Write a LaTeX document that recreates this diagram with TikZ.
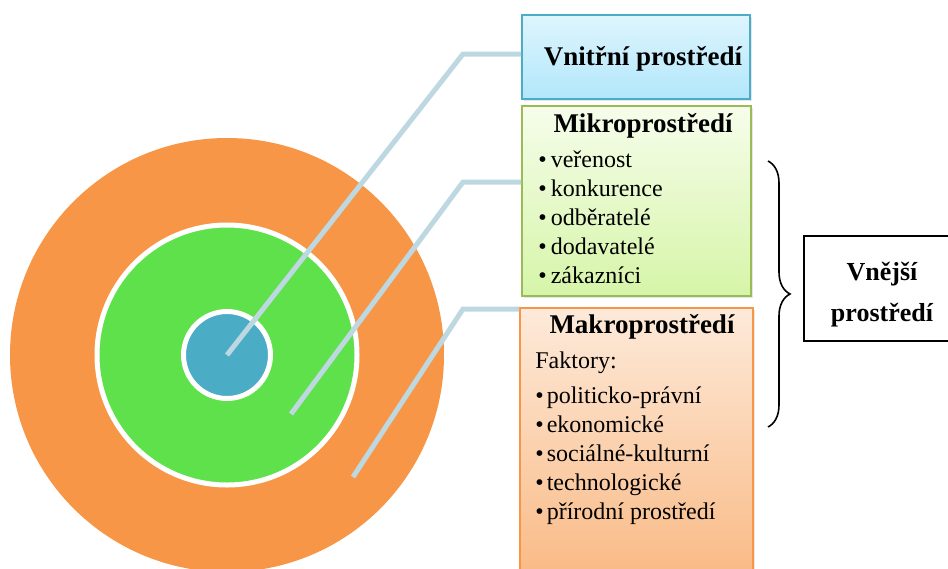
\documentclass[tikz,border=0pt]{standalone}
\usepackage{fontspec}
\setmainfont{Liberation Serif}
\usetikzlibrary{positioning,shadows,decorations.pathreplacing}

\definecolor{ringout}{RGB}{247,150,70}
\definecolor{ringmid}{RGB}{94,225,74}
\definecolor{ringin}{RGB}{75,172,198}
\definecolor{leader}{RGB}{190,216,226}
\definecolor{vnitrnitop}{RGB}{222,245,253}
\definecolor{vnitrnibot}{RGB}{178,231,251}
\definecolor{mikrotop}{RGB}{246,253,235}
\definecolor{mikrobot}{RGB}{214,245,168}
\definecolor{mikroline}{RGB}{155,187,89}
\definecolor{makrotop}{RGB}{253,234,218}
\definecolor{makrobot}{RGB}{249,182,126}

\begin{document}
\begin{tikzpicture}[x=0.5pt,y=-0.5pt,
    ring/.style={circle, draw=white, line width=2.5pt, inner sep=0pt},
    leaderline/.style={draw=leader, line width=2.5pt},
    panel/.style={rectangle, line width=1pt, inner sep=0pt,
        drop shadow={opacity=0.2, shadow xshift=0.8pt, shadow yshift=-0.8pt}},
    title/.style={font=\fontsize{13.5}{16}\bfseries\selectfont, anchor=base, inner sep=0pt},
    item/.style={font=\fontsize{12}{14}\selectfont, anchor=base west, inner sep=0pt}]

    \clip (0,0) rectangle (948,568);

    % Rings
    \node[ring, fill=ringout, draw=none, minimum size=217pt] (outer) at (227,355) {};
    \node[ring, fill=ringmid, minimum size=130pt] (middle) at (227,355) {};
    \node[ring, fill=ringin, minimum size=43.5pt] (core) at (227,355) {};

    % Leader lines
    \coordinate (s2) at (291,414);
    \coordinate (s3) at (353,477);
    \coordinate (k1) at (463,54);
    \coordinate (k2) at (463,182);
    \coordinate (k3) at (463,309);

    % Boxes
    \node[panel, draw=ringin, top color=vnitrnitop, bottom color=vnitrnibot,
        minimum width=114pt, minimum height=42pt] (vnitrni) at (636,57) {};
    \node[panel, draw=mikroline, top color=mikrotop, bottom color=mikrobot,
        minimum width=114.5pt, minimum height=95pt] (mikro) at (636.5,201) {};
    \node[panel, draw=ringout, top color=makrotop, bottom color=makrobot,
        minimum width=116.5pt, minimum height=146pt] (makro) at (636.5,454) {};
    \node[rectangle, draw, line width=1pt, fill=white,
        minimum width=78pt, minimum height=52.5pt] (vnejsi) at (882,288.5) {};

    \draw[leaderline] (core.center) -- (k1) -- (k1 -| vnitrni.west);
    \draw[leaderline] (s2) -- (k2) -- (k2 -| mikro.west);
    \draw[leaderline] (s3) -- (k3) -- (k3 -| makro.west);

    % Texts
    \node[title] (vnitrnititle) at (643,65) {Vnitřní prostředí};
    \node[title] (mikrotitle) at (643,132) {Mikroprostředí};
    \node[title] (makrotitle) at (642,333) {Makroprostředí};
    \foreach \w [count=\i] in {veřenost, konkurence, odběratelé, dodavatelé, zákazníci}
        \node[item] (mi\i) at (538,138+29*\i) {•\hspace{2pt}\w};
    \node[item] (faktory) at (535,368) {Faktory:};
    \foreach \w [count=\i] in {politicko-právní, ekonomické, sociálné-kulturní, technologické, přírodní prostředí}
        \node[item] (ma\i) at (535,374+29*\i) {•\hspace{1.5pt}\w};
    \node[title, font=\fontsize{13}{16}\bfseries\selectfont] (vnejsi1) at (882,280) {Vnější};
    \node[title, font=\fontsize{13}{16}\bfseries\selectfont] (vnejsi2) at (882,321) {prostředí};

    % Brace for Mikro and Makro
    \coordinate (bracetop) at (768,161);
    \coordinate (bracebot) at (768,427);
    \draw [decorate,decoration={brace,amplitude=11pt},line width=0.8pt]
        (bracetop) -- (bracebot);
\end{tikzpicture}
\end{document}
